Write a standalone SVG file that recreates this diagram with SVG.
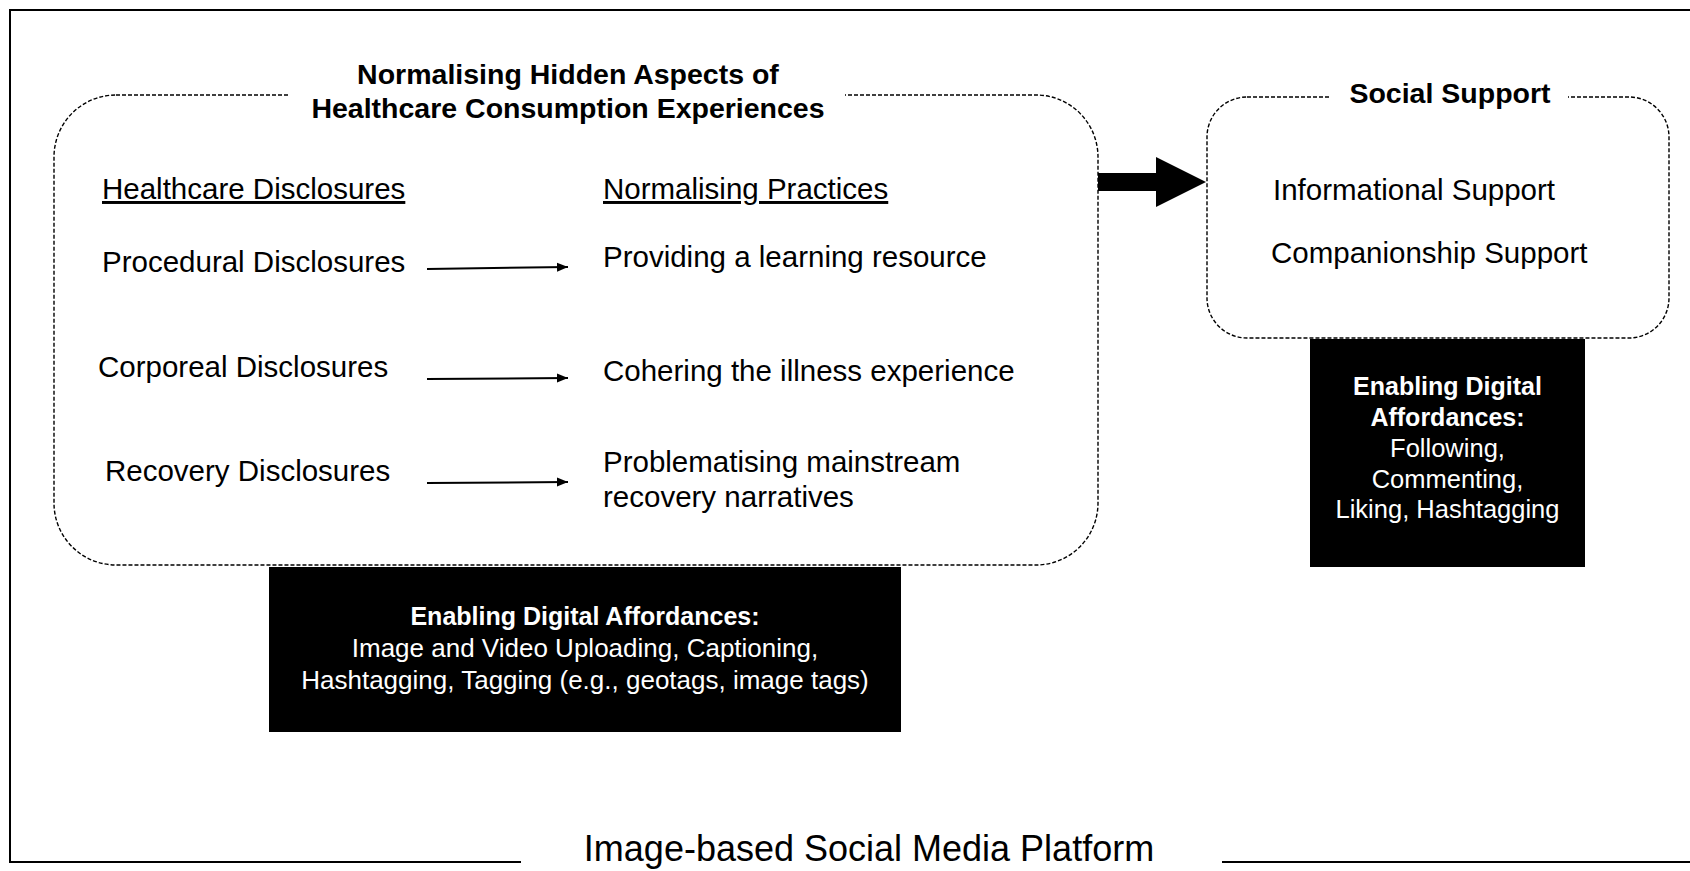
<svg xmlns="http://www.w3.org/2000/svg" width="1690" height="871" viewBox="0 0 1690 871">
  <defs>
    <style>
      text { font-family: "Liberation Sans", Arial, sans-serif; fill: #000; }
      .body { font-size: 29.5px; }
      .title { font-size: 28.5px; font-weight: bold; }
      .ul { text-decoration: underline; }
      .dash { fill: none; stroke: #000; stroke-width: 1.4; stroke-dasharray: 4 2; }
      .inv { fill: #fff; font-size: 25.5px; text-anchor: middle; }
      .invl { fill: #fff; font-size: 26px; text-anchor: middle; }
      .invb { fill: #fff; font-size: 25px; font-weight: bold; text-anchor: middle; }
      .link { stroke: #000; stroke-width: 2; fill: none; }
    </style>
    <marker id="ah" markerWidth="11" markerHeight="10" refX="11" refY="5" orient="auto" markerUnits="userSpaceOnUse">
      <path d="M0,0.5 L11,5 L0,9.5 Z" fill="#000"/>
    </marker>
  </defs>
  <rect width="1690" height="871" fill="#fff"/>

  <g id="platform-frame">
    <path d="M1690,10 H10 V862 H1690" fill="none" stroke="#000" stroke-width="2"/>
    <rect x="521" y="822" width="701" height="49" fill="#fff"/>
    <text x="869" y="861" text-anchor="middle" style="font-size:36px">Image-based Social Media Platform</text>
  </g>

  <g id="normalising-box">
    <rect class="dash" x="54" y="95" width="1044" height="470" rx="62" ry="62"/>
    <rect x="289" y="50" width="556" height="80" fill="#fff"/>
    <text class="title" x="568" y="84" text-anchor="middle">Normalising Hidden Aspects of</text>
    <text class="title" x="568" y="118" text-anchor="middle">Healthcare Consumption Experiences</text>
  </g>

  <g id="healthcare-disclosures">
    <text class="body ul" x="102" y="199">Healthcare Disclosures</text>
  </g>
  <g id="normalising-practices">
    <text class="body ul" x="603" y="199">Normalising Practices</text>
  </g>
  <g id="procedural">
    <text class="body" x="102" y="272">Procedural Disclosures</text>
  </g>
  <g id="corporeal">
    <text class="body" x="98" y="377">Corporeal Disclosures</text>
  </g>
  <g id="recovery">
    <text class="body" x="105" y="481">Recovery Disclosures</text>
  </g>
  <g id="learning-resource">
    <text class="body" x="603" y="267">Providing a learning resource</text>
  </g>
  <g id="cohering">
    <text class="body" x="603" y="381">Cohering the illness experience</text>
  </g>
  <g id="problematising">
    <text class="body" x="603" y="472">Problematising mainstream</text>
    <text class="body" x="603" y="507">recovery narratives</text>
  </g>

  <g id="affordances-left">
    <rect x="269" y="567" width="632" height="165" fill="#000"/>
    <text class="invb" x="585" y="625">Enabling Digital Affordances:</text>
    <text class="invl" x="585" y="657">Image and Video Uploading, Captioning,</text>
    <text class="invl" x="585" y="689">Hashtagging, Tagging (e.g., geotags, image tags)</text>
  </g>

  <g id="social-support">
    <rect class="dash" x="1207" y="97" width="462" height="241" rx="40" ry="40"/>
    <rect x="1330" y="75" width="238" height="45" fill="#fff"/>
    <text class="title" x="1450" y="103" text-anchor="middle">Social Support</text>
    <text class="body" x="1273" y="200">Informational Support</text>
    <text class="body" x="1271" y="263">Companionship Support</text>
  </g>

  <g id="affordances-right">
    <rect x="1310" y="339" width="275" height="228" fill="#000"/>
    <text class="invb" x="1447.5" y="395">Enabling Digital</text>
    <text class="invb" x="1447.5" y="426">Affordances:</text>
    <text class="inv" x="1447.5" y="457">Following,</text>
    <text class="inv" x="1447.5" y="488">Commenting,</text>
    <text class="inv" x="1447.5" y="518">Liking, Hashtagging</text>
  </g>

  <g id="connectors">
    <line class="link" x1="427" y1="269" x2="568" y2="267" marker-end="url(#ah)"/>
    <line class="link" x1="427" y1="379" x2="568" y2="378" marker-end="url(#ah)"/>
    <line class="link" x1="427" y1="483" x2="568" y2="482" marker-end="url(#ah)"/>
    <polygon points="1098,173 1156,173 1156,157 1206,182 1156,207 1156,191 1098,191" fill="#000"/>
  </g>
</svg>
